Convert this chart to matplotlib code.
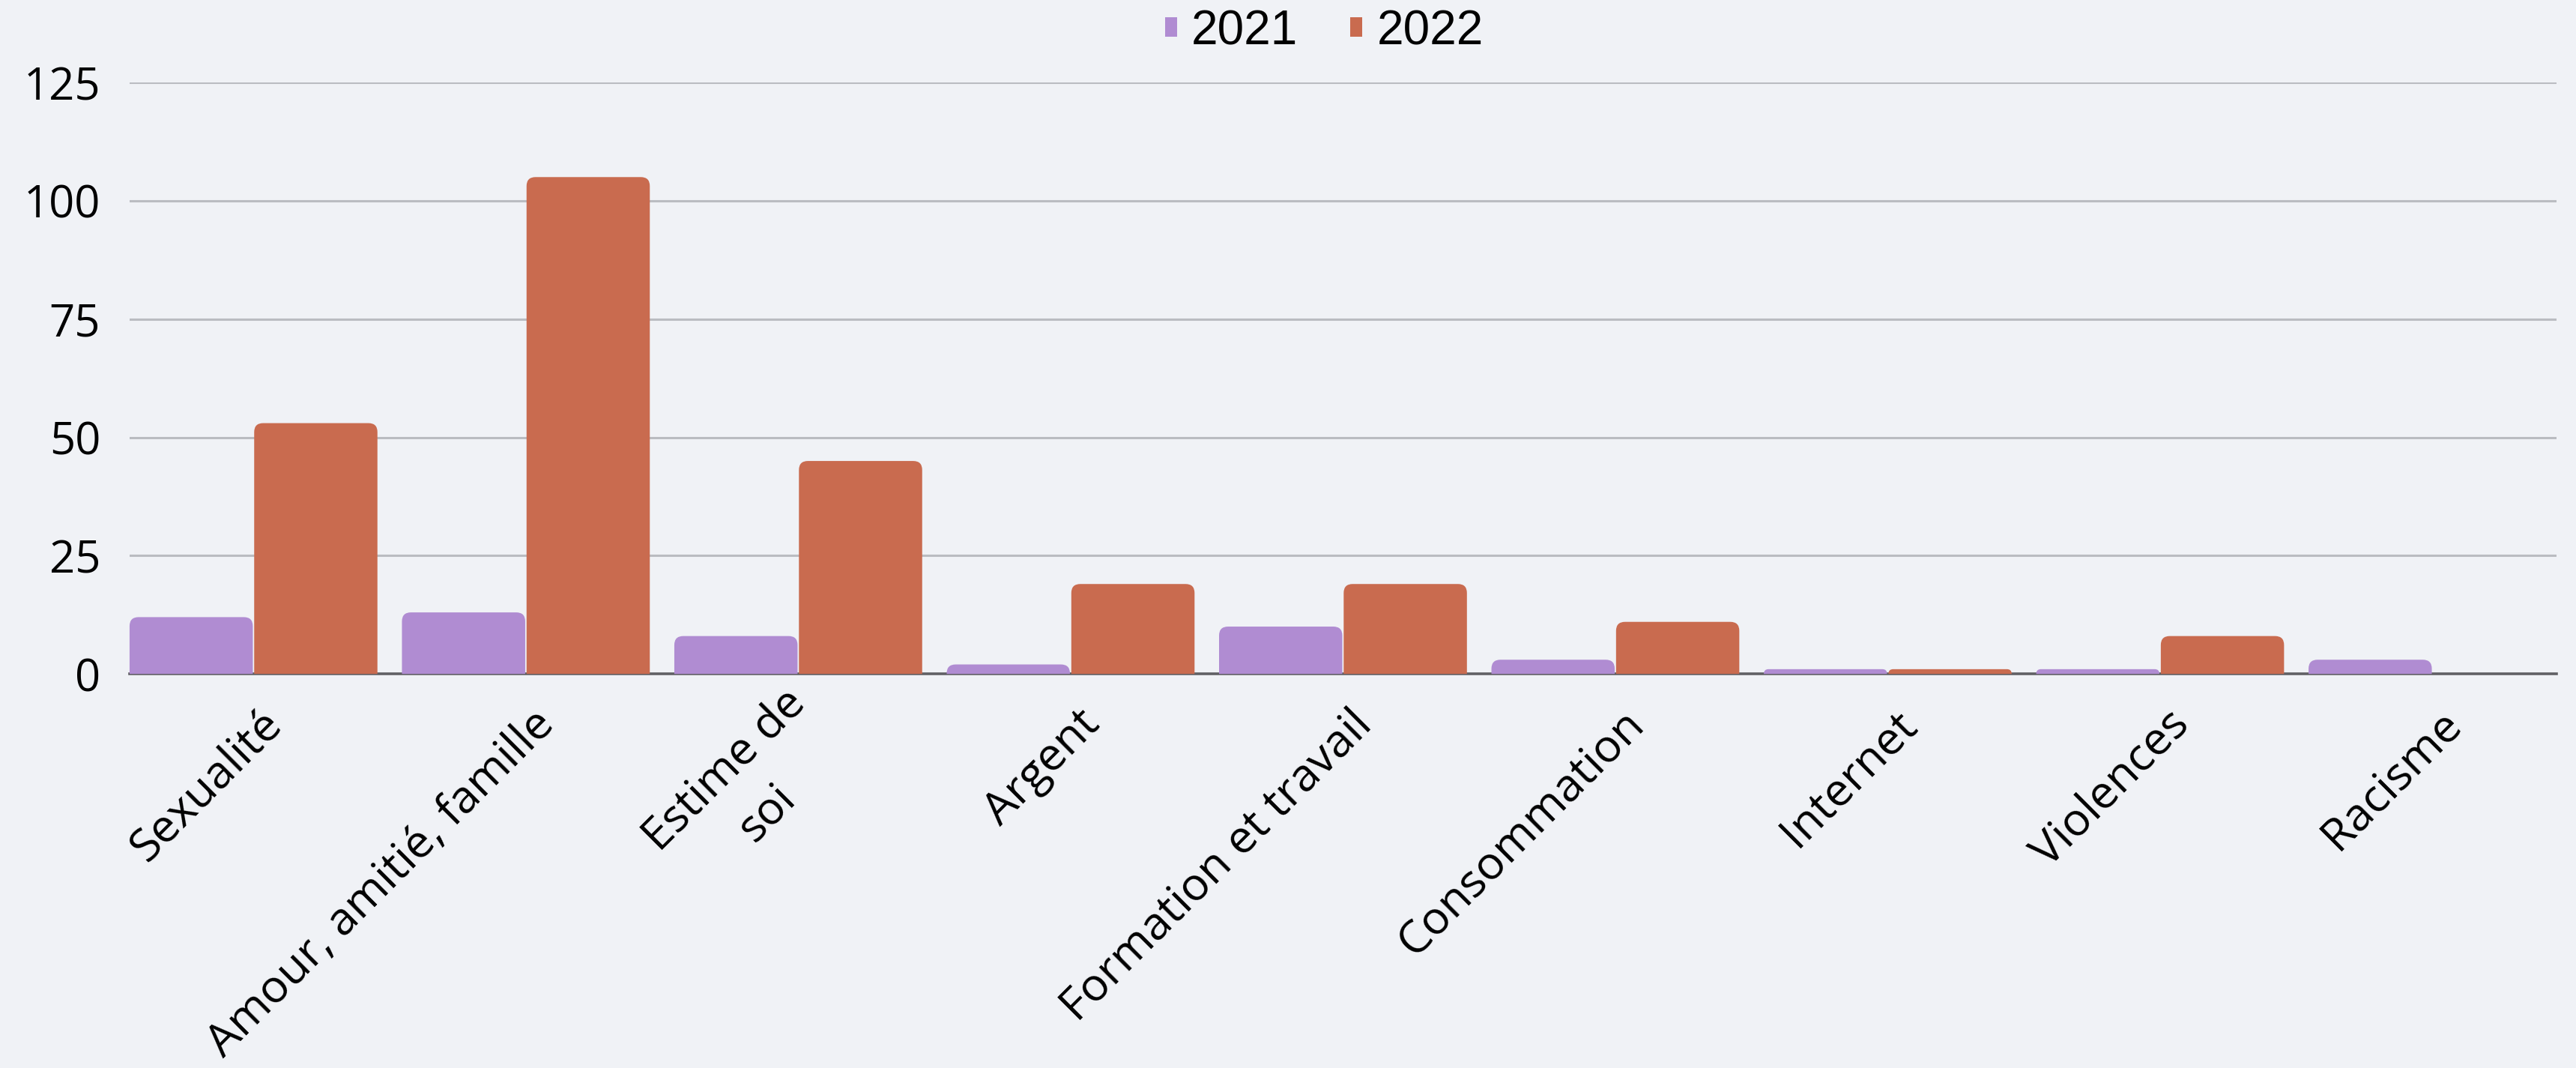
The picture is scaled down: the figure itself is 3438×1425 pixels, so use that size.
import matplotlib
matplotlib.use("Agg")
import matplotlib.pyplot as plt
from matplotlib.path import Path
from matplotlib.patches import PathPatch, Patch
from matplotlib.transforms import IdentityTransform
import numpy as np

categories = ["Sexualité", "Amour, amitié, famille", "Estime de\nsoi", "Argent",
              "Formation et travail", "Consommation", "Internet", "Violences", "Racisme"]
series_names = ["2021", "2022"]
values_2021 = [12, 13, 8, 2, 10, 3, 1, 1, 3]
values_2022 = [53, 105, 45, 19, 19, 11, 1, 8, 0]
yticks = [0, 25, 50, 75, 100, 125]

BG = "#F0F2F6"
C21 = "#B08CD2"
C22 = "#C96B4F"
FONT = "Open Sans"

plt.rcParams['font.family'] = [FONT, 'DejaVu Sans']

fig = plt.figure(figsize=(34.38, 14.25), dpi=100, facecolor=BG)
ax = fig.add_axes([0.0503, 0.369, 0.9924 - 0.0503, 0.9228 - 0.369])
ax.set_facecolor(BG)

x = np.arange(len(categories))
group = 0.91
w = 0.4525
b1 = ax.bar(x - group / 2 + w / 2, values_2021, width=w, color=C21, label=series_names[0])
b2 = ax.bar(x + group / 2 - w / 2, values_2022, width=w, color=C22, label=series_names[1])

ax.set_xlim(-group / 2, len(categories) - 1 + group / 2)
ax.set_ylim(0, 125)
ax.set_yticks(yticks)
ax.set_yticklabels([str(t) for t in yticks], fontsize=43)
ax.tick_params(axis='y', length=0, pad=28)
ax.set_axisbelow(True)
ax.yaxis.grid(True, color="#BABCC1", linewidth=2.2)
ax.xaxis.grid(False)
for s in ["top", "right", "left"]:
    ax.spines[s].set_visible(False)
ax.spines["bottom"].set_color("#606064")
ax.spines["bottom"].set_linewidth(2.6)
ax.spines["bottom"].set_zorder(5)

ax.set_xticks(x)
ax.set_xticklabels([])
ax.tick_params(axis='x', length=0)
for xi, lab in zip(x, categories):
    ax.annotate(lab, xy=(xi, 0), xycoords=('data', 'axes fraction'),
                xytext=(21, -42), textcoords='offset points',
                rotation=45, rotation_mode='anchor', ha='right', va='center',
                multialignment='center', linespacing=1.45, fontsize=44, color="black")

# rounded top corners drawn in pixel space from the bar rectangles
fig.canvas.draw()
R = 12
for bars in (b1, b2):
    for p in bars.patches:
        h = p.get_height()
        if h <= 0:
            p.set_visible(False)
            continue
        bb = p.get_window_extent()
        x0, y0, x1, y1 = bb.x0, bb.y0, bb.x1, bb.y1
        r = min(R, (y1 - y0), (x1 - x0) / 2)
        verts = [(x0, y0), (x0, y1 - r), (x0, y1), (x0 + r, y1), (x1 - r, y1),
                 (x1, y1), (x1, y1 - r), (x1, y0), (x0, y0)]
        codes = [Path.MOVETO, Path.LINETO, Path.CURVE3, Path.CURVE3, Path.LINETO,
                 Path.CURVE3, Path.CURVE3, Path.LINETO, Path.CLOSEPOLY]
        pp = PathPatch(Path(verts, codes), facecolor=p.get_facecolor(), edgecolor='none',
                       transform=IdentityTransform(), zorder=3)
        fig.add_artist(pp)
        p.set_visible(False)

handles = [Patch(facecolor=C21, edgecolor='none'), Patch(facecolor=C22, edgecolor='none')]
leg = fig.legend(handles, series_names, loc='center', bbox_to_anchor=(0.514, 0.9705),
                 ncol=2, frameon=False, prop={'family': 'Liberation Sans', 'size': 46},
                 handlelength=0.25, handleheight=0.25,
                 handletextpad=0.3, columnspacing=1.1)

fig.savefig("out.png", dpi=100, facecolor=BG)
